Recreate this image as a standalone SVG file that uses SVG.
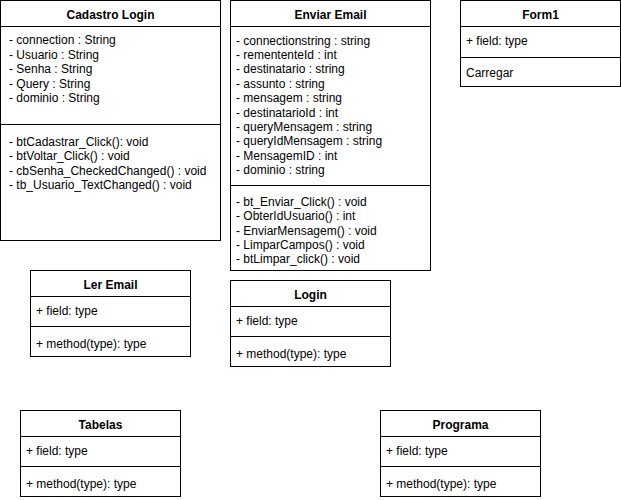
<svg xmlns="http://www.w3.org/2000/svg" width="621" height="500" viewBox="0 0 621 500">
<style>
.box{fill:#fff;stroke:#000;stroke-width:1}
.ln{stroke:#000;stroke-width:1;fill:none}
text{font-family:"Liberation Sans",Arial,sans-serif;font-size:12px;fill:#000}
.t{font-weight:bold;text-anchor:middle}
</style>
<rect width="621" height="500" fill="#fff"/>
<g id="cadastro-login">
<rect class="box" x="0.5" y="0.5" width="220" height="240"/>
<line class="ln" x1="0.5" y1="26.5" x2="220.5" y2="26.5"/>
<line class="ln" x1="0.5" y1="124.5" x2="220.5" y2="124.5"/>
<text class="t" x="110.5" y="18.5">Cadastro Login</text>
<text x="9" y="44.3">- connection : String</text>
<text x="9" y="58.7">- Usuario : String</text>
<text x="9" y="73.1">- Senha : String</text>
<text x="9" y="87.5">- Query : String</text>
<text x="9" y="101.9">- dominio : String</text>
<text x="9" y="145.8">- btCadastrar_Click(): void</text>
<text x="9" y="160.2">- btVoltar_Click() : void</text>
<text x="9" y="174.6">- cbSenha_CheckedChanged() : void</text>
<text x="9" y="189">- tb_Usuario_TextChanged() : void</text>
</g>
<g id="enviar-email">
<rect class="box" x="230.5" y="0.5" width="200" height="270"/>
<line class="ln" x1="230.5" y1="26.5" x2="430.5" y2="26.5"/>
<line class="ln" x1="230.5" y1="185.5" x2="430.5" y2="185.5"/>
<text class="t" x="330.5" y="18.5">Enviar Email</text>
<text x="236" y="44.5">- connectionstring : string</text>
<text x="236" y="58.9">- remententeId : int</text>
<text x="236" y="73.3">- destinatario : string</text>
<text x="236" y="87.7">- assunto : string</text>
<text x="236" y="102.1">- mensagem : string</text>
<text x="236" y="116.5">- destinatarioId : int</text>
<text x="236" y="130.9">- queryMensagem : string</text>
<text x="236" y="145.3">- queryIdMensagem : string</text>
<text x="236" y="159.7">- MensagemID : int</text>
<text x="236" y="174.1">- dominio : string</text>
<text x="236" y="205.7">- bt_Enviar_Click() : void</text>
<text x="236" y="220.1">- ObterIdUsuario() : int</text>
<text x="236" y="234.5">- EnviarMensagem() : void</text>
<text x="236" y="248.9">- LimparCampos() : void</text>
<text x="236" y="263.3">- btLimpar_click() : void</text>
</g>
<g id="form1">
<rect class="box" x="460.5" y="0.5" width="160" height="86"/>
<line class="ln" x1="460.5" y1="26.5" x2="620.5" y2="26.5"/>
<line class="ln" x1="460.5" y1="57.5" x2="620.5" y2="57.5"/>
<text class="t" x="540.5" y="18.5">Form1</text>
<text x="466" y="44.5">+ field: type</text>
<text x="466" y="77">Carregar</text>
</g>
<g id="ler-email">
<rect class="box" x="30.5" y="270.5" width="160" height="86"/>
<line class="ln" x1="30.5" y1="296.5" x2="190.5" y2="296.5"/>
<line class="ln" x1="30.5" y1="326.5" x2="190.5" y2="326.5"/>
<text class="t" x="110.5" y="288.5">Ler Email</text>
<text x="36" y="314.5">+ field: type</text>
<text x="36" y="347.5">+ method(type): type</text>
</g>
<g id="login">
<rect class="box" x="230.5" y="280.5" width="160" height="86"/>
<line class="ln" x1="230.5" y1="306.5" x2="390.5" y2="306.5"/>
<line class="ln" x1="230.5" y1="336.5" x2="390.5" y2="336.5"/>
<text class="t" x="310.5" y="298.5">Login</text>
<text x="236" y="324.5">+ field: type</text>
<text x="236" y="357.5">+ method(type): type</text>
</g>
<g id="tabelas">
<rect class="box" x="20.5" y="410.5" width="160" height="86"/>
<line class="ln" x1="20.5" y1="436.5" x2="180.5" y2="436.5"/>
<line class="ln" x1="20.5" y1="466.5" x2="180.5" y2="466.5"/>
<text class="t" x="100.5" y="428.5">Tabelas</text>
<text x="26" y="454.5">+ field: type</text>
<text x="26" y="487.5">+ method(type): type</text>
</g>
<g id="programa">
<rect class="box" x="380.5" y="410.5" width="160" height="86"/>
<line class="ln" x1="380.5" y1="436.5" x2="540.5" y2="436.5"/>
<line class="ln" x1="380.5" y1="466.5" x2="540.5" y2="466.5"/>
<text class="t" x="460.5" y="428.5">Programa</text>
<text x="386" y="454.5">+ field: type</text>
<text x="386" y="487.5">+ method(type): type</text>
</g>
<g id="connectors"></g>
</svg>
